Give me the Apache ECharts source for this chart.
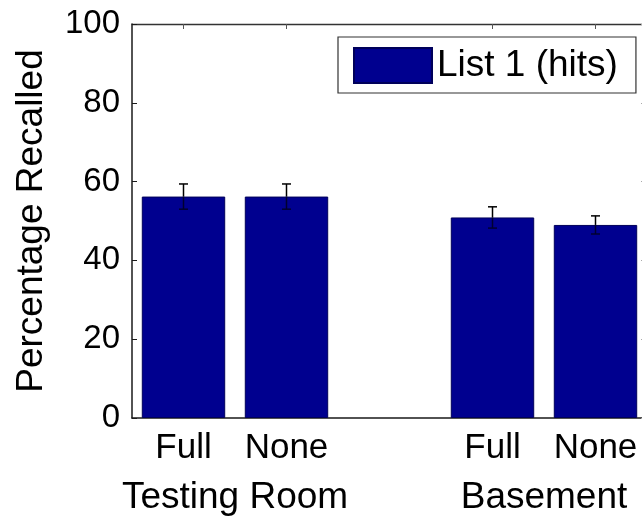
<!DOCTYPE html>
<html>
<head>
<meta charset="utf-8">
<script src="https://cdn.jsdelivr.net/npm/echarts@6/dist/echarts.min.js"></script>
<style>
  html, body { margin: 0; padding: 0; background: #fff; }
  #chart { width: 642px; height: 516px; }
</style>
</head>
<body>
<div id="chart"></div>
<script>
// Recall by condition, grouped by location (empty slot separates the groups)
const categories = ['Full', 'None', '', 'Full', 'None'];
const hits = [56.2, 56.2, null, 50.9, 49.0];
const hitsErr = [3.2, 3.2, null, 2.7, 2.3];
const groupNames = ['Testing Room', 'Basement'];
const groupMembers = [[0, 1], [3, 4]];
const yTicks = [0, 20, 40, 60, 80, 100];
const seriesName = 'List 1 (hits)';

const FONT = '"Liberation Sans", Arial, Helvetica, sans-serif';
const BAR = '#00008f';
const AXIS = '#1a1a1a';

const yMin = yTicks[0], yMax = yTicks[yTicks.length - 1];
const groupCenters = groupMembers.map(m => (m[0] + m[m.length - 1]) / 2);
const errData = hits.map((v, i) => v == null ? null : [i, v, hitsErr[i]]).filter(Boolean);
// value axes that share the category slots: slot i sits at value i
const slotMin = -0.5, slotMax = categories.length - 0.5;

const chart = echarts.init(document.getElementById('chart'), null, { renderer: 'canvas' });
chart.setOption({
  animation: false,
  backgroundColor: '#fff',
  textStyle: { fontFamily: FONT },
  // plot box runs a little past the right edge of the canvas
  grid: { left: 132, top: 24, bottom: 98, width: 515, containLabel: false, outerBoundsMode: 'none' },
  legend: {
    data: [{ name: seriesName, icon: 'rect' }],
    left: 338, top: 37,
    padding: [10, 18, 9, 15],
    itemWidth: 78, itemHeight: 35,
    borderColor: '#333', borderWidth: 1.2,
    backgroundColor: '#fff',
    textStyle: { fontSize: 37, color: '#000', fontFamily: FONT },
    selectedMode: false
  },
  xAxis: [
    {
      type: 'category', data: categories, position: 'bottom',
      axisLine: { onZero: false, lineStyle: { color: AXIS, width: 1.5 } },
      axisTick: { show: false },
      axisLabel: { interval: 0, margin: 13, fontSize: 35, color: '#000', fontFamily: FONT }
    },
    {
      type: 'value', position: 'top', min: slotMin, max: slotMax,
      axisLine: { show: true, onZero: false, lineStyle: { color: '#333', width: 1.3 } },
      axisTick: { show: false },
      axisLabel: { show: false },
      splitLine: { show: false }
    },
    {
      type: 'value', position: 'bottom', min: slotMin, max: slotMax,
      axisLine: { show: false, onZero: false }, axisTick: { show: false }, splitLine: { show: false },
      axisLabel: {
        customValues: groupCenters,
        margin: 61, fontSize: 37, color: '#000', fontFamily: FONT,
        formatter: (v) => groupNames[groupCenters.indexOf(v)] || ''
      }
    }
  ],
  yAxis: [
    {
      type: 'value', min: yMin, max: yMax, interval: yTicks[1] - yTicks[0],
      name: 'Percentage Recalled', nameLocation: 'middle', nameGap: 82,
      nameTextStyle: { fontSize: 37, color: '#000', fontFamily: FONT },
      axisLine: { show: true, onZero: false, lineStyle: { color: AXIS, width: 1.5 } },
      axisTick: { show: true, inside: true, length: 5, lineStyle: { color: AXIS } },
      axisLabel: { margin: 12, fontSize: 33, color: '#000', fontFamily: FONT },
      splitLine: { show: false }
    },
    {
      type: 'value', position: 'right', min: yMin, max: yMax, interval: yTicks[1] - yTicks[0],
      axisLine: { show: true, onZero: false, lineStyle: { color: AXIS, width: 1.5 } },
      axisTick: { show: true, inside: true, length: 6, lineStyle: { color: '#aaa' } },
      axisLabel: { show: false },
      splitLine: { show: false }
    }
  ],
  series: [
    {
      name: seriesName, type: 'bar', xAxisIndex: 0, yAxisIndex: 0,
      data: hits.map(v => v == null ? '-' : v),
      barWidth: '81%',
      itemStyle: { color: BAR, borderColor: '#00005a', borderWidth: 1 }
    },
    {
      // error bars, plus the inward tick on the top frame above each bar slot
      name: 'err', type: 'custom', xAxisIndex: 0, yAxisIndex: 0,
      data: errData, encode: { x: 0, y: 1 }, z: 5,
      renderItem: (params, api) => {
        const x = api.value(0), v = api.value(1), e = api.value(2);
        const hi = api.coord([x, v + e]);
        const lo = api.coord([x, v - e]);
        const mid = api.coord([x, v]);
        const top = api.coord([x, yMax]);
        const w = 4.5;
        const style = { stroke: '#000', lineWidth: 1.5 };
        const darkStyle = { stroke: '#000030', lineWidth: 1.5 };
        return {
          type: 'group',
          children: [
            { type: 'line', shape: { x1: top[0], y1: top[1], x2: top[0], y2: top[1] + 5 }, style: { stroke: '#555', lineWidth: 1 } },
            { type: 'line', shape: { x1: hi[0], y1: hi[1], x2: mid[0], y2: mid[1] }, style },
            { type: 'line', shape: { x1: hi[0] - w, y1: hi[1], x2: hi[0] + w, y2: hi[1] }, style },
            { type: 'line', shape: { x1: mid[0], y1: mid[1], x2: lo[0], y2: lo[1] }, style: darkStyle },
            { type: 'line', shape: { x1: lo[0] - w, y1: lo[1], x2: lo[0] + w, y2: lo[1] }, style: darkStyle }
          ]
        };
      }
    }
  ]
});
</script>
</body>
</html>
